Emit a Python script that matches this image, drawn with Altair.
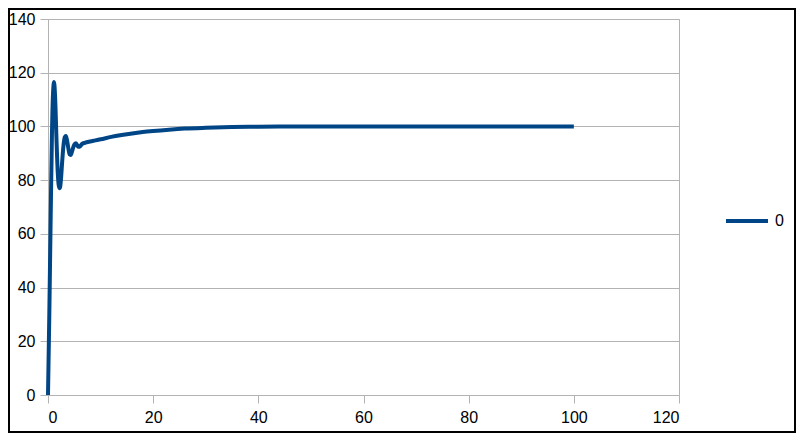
import altair as alt
import pandas as pd

# Values
t_values = [0, 0.25, 0.5, 0.75, 0.95, 1.15, 1.35, 1.6, 1.85, 2.05, 2.25, 2.45, 2.7,
            2.95, 3.2, 3.4, 3.65, 3.9, 4.1, 4.3, 4.55, 4.8, 5.05, 5.3, 5.55, 5.8,
            6.1, 6.5, 7.0, 8.0, 9.0, 10, 12, 14, 16, 18, 20, 23, 26, 30, 35, 40,
            45, 50, 60, 70, 80, 90, 100]
y_values = [0, 30, 65, 97, 112, 116.5, 111, 96, 83, 78, 77, 80, 87,
            93, 96, 96.4, 94.5, 91.5, 89.6, 89.4, 90.5, 92.2, 93.4, 93.7, 93.0, 92.4,
            92.6, 93.5, 93.9, 94.4, 94.8, 95.2, 96.1, 96.8, 97.4, 97.9, 98.3, 98.8, 99.2,
            99.5, 99.75, 99.88, 99.95, 100, 100, 100, 100, 100, 100]
series_names = ["0"]
x_ticks = [0, 20, 40, 60, 80, 100, 120]
y_ticks = [0, 20, 40, 60, 80, 100, 120, 140]

df = pd.DataFrame({"t": t_values, "y": y_values, "s": series_names[0]})

GRID = "#b3b3b3"
LINE = "#004586"
FONT = "Liberation Sans"

line = alt.Chart(df).mark_line(strokeWidth=4, interpolate="monotone").encode(
    x=alt.X("t:Q", scale=alt.Scale(domain=[0, 120], nice=False),
            axis=alt.Axis(values=x_ticks, title=None, grid=False)),
    y=alt.Y("y:Q", scale=alt.Scale(domain=[0, 140], nice=False),
            axis=alt.Axis(values=y_ticks, title=None, grid=True)),
    color=alt.Color("s:N", scale=alt.Scale(range=[LINE]),
                    legend=alt.Legend(title=None, orient="none", legendX=676, legendY=179,
                                      symbolType="stroke", symbolSize=1764,
                                      symbolStrokeWidth=4, labelOffset=5,
                                      labelFontSize=16, labelColor="#000000",
                                      labelFont=FONT, padding=0)),
)

frame = alt.Chart(df).mark_rect(fill=None, stroke="#000000", strokeWidth=2).encode(
    x=alt.value(-39), x2=alt.value(747), y=alt.value(-10), y2=alt.value(413)
)

chart = alt.layer(line, frame).properties(
    width=631, height=376,
    autosize=alt.AutoSizeParams(type="none"),
    padding={"left": 40, "top": 11, "right": 117, "bottom": 38},
).configure_view(stroke=GRID, strokeWidth=1).configure_axis(
    domainColor=GRID, tickColor=GRID, gridColor=GRID, tickSize=8,
    labelFont=FONT, labelFontSize=16, labelColor="#000000",
    labelPadding=5,
).configure_axisX(labelPadding=6)

chart.save("out.html", embed_options={"renderer": "svg", "actions": False})
